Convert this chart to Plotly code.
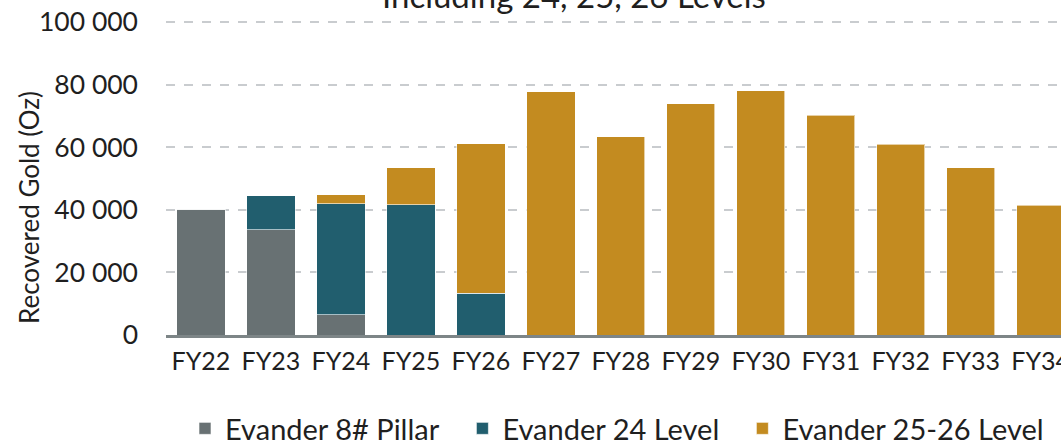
import plotly.graph_objects as go

years = ["FY22", "FY23", "FY24", "FY25", "FY26", "FY27", "FY28", "FY29",
         "FY30", "FY31", "FY32", "FY33", "FY34"]
pillar_8 = [40200, 33600, 6500, 0, 0, 0, 0, 0, 0, 0, 0, 0, 0]
level_24 = [0, 10900, 35500, 41600, 13300, 0, 0, 0, 0, 0, 0, 0, 0]
level_25_26 = [0, 0, 2800, 11800, 47800, 77700, 63400, 73900, 78100, 70300, 61000, 53500, 41500]
ytick_vals = [0, 20000, 40000, 60000, 80000, 100000]
ytick_text = ["0", "20 000", "40 000", "60 000", "80 000", "100 000"]

series = [
    ("Evander 8# Pillar", pillar_8, "#687173"),
    ("Evander 24 Level", level_24, "#215E6E"),
    ("Evander 25-26 Level", level_25_26, "#C38B20"),
]

FONT = "Lato, 'Open Sans', sans-serif"
TXT = "#1f1f1f"
L, T, B, W, H = 166, 19, 111, 1061, 446
PH = H - T - B
GAP = "\u2002\u2009"

fig = go.Figure()
for i, (name, vals, col) in enumerate(series):
    fig.add_trace(go.Bar(
        x=years, y=vals, name=name + (GAP if i < len(series) - 1 else ""),
        marker=dict(color=col, line=dict(color="rgba(255,255,255,0.6)", width=1)),
    ))

fig.update_layout(
    width=W, height=H,
    barmode="stack", bargap=0.31,
    plot_bgcolor="white", paper_bgcolor="white",
    margin=dict(l=L, r=0, t=T, b=B, autoexpand=False),
    font=dict(family=FONT, color=TXT, size=22),
    showlegend=True,
    legend=dict(orientation="h", x=(617 - L) / (W - L), xanchor="center",
                y=-(403 - (T + PH)) / PH, yanchor="top",
                font=dict(size=29, color=TXT), itemwidth=30, traceorder="normal"),
    xaxis=dict(range=[-0.5, 12.29], showgrid=False, showline=True, linecolor="#7d8587",
               linewidth=3, ticks="", tickfont=dict(size=25, color=TXT),
               ticklabelstandoff=2, automargin=False),
    yaxis=dict(range=[0, 101000], tickvals=ytick_vals, ticktext=ytick_text,
               showgrid=True, gridcolor="#c9cccf", griddash="dash", gridwidth=2,
               zeroline=False, showline=False, tickfont=dict(size=26.5, color=TXT),
               ticklabelstandoff=27, automargin=False),
    annotations=[
        dict(text="Including 24, 25, 26 Levels", xref="paper", yref="paper",
             x=(574 - L) / (W - L), y=1 + 2 / PH, xanchor="center", yanchor="bottom",
             showarrow=False, font=dict(size=33, color=TXT)),
        dict(text="Recovered Gold (Oz)", xref="paper", yref="paper",
             x=(29 - L) / (W - L), y=1 - (208 - T) / PH, xanchor="center", yanchor="middle",
             textangle=-90, showarrow=False, font=dict(size=26, color=TXT)),
    ],
)

fig.write_html("out.html", config={"displayModeBar": False},
               post_script="document.body.style.margin='0';document.body.style.overflow='hidden';")
